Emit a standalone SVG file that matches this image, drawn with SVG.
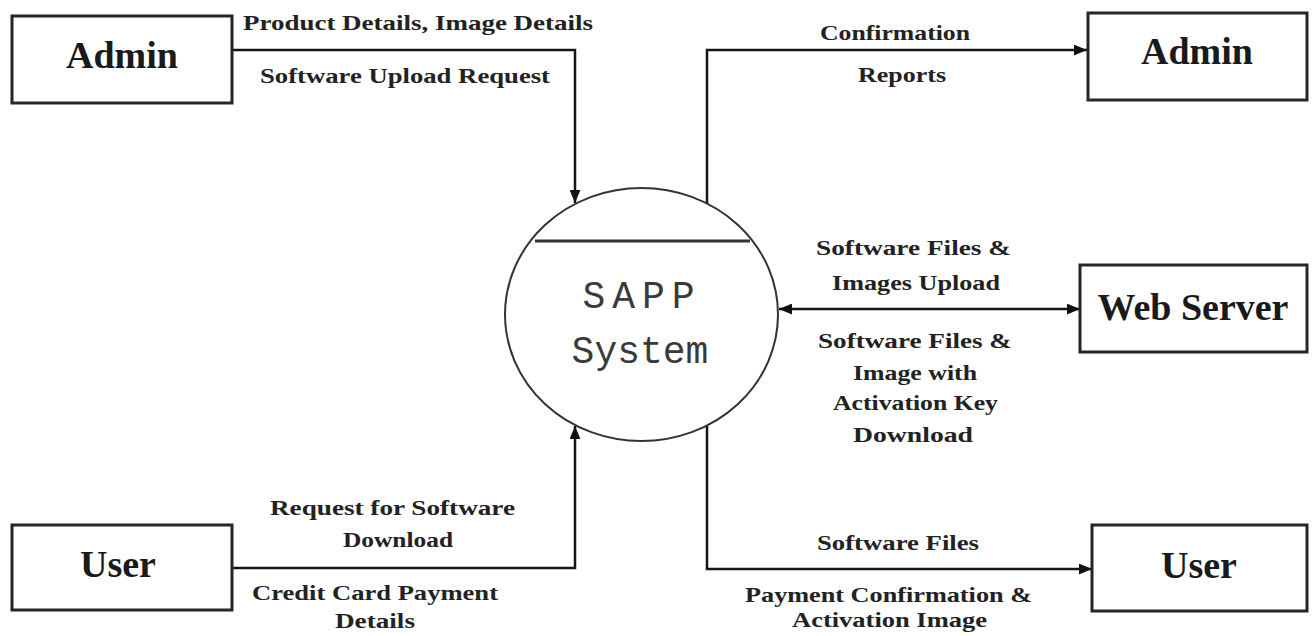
<svg xmlns="http://www.w3.org/2000/svg" width="1315" height="636" viewBox="0 0 1315 636">
  <style>
    .box { fill: #fff; stroke: #262626; stroke-width: 3; }
    .ent { font-family: "Liberation Serif", serif; font-weight: bold; font-size: 38px; fill: #1a1a1a; text-anchor: middle; }
    .lbl { font-family: "Liberation Serif", serif; font-weight: bold; font-size: 22px; fill: #222; }
    .flow { fill: none; stroke: #151515; stroke-width: 2.5; }
    .proc { font-family: "Liberation Mono", monospace; font-size: 38px; fill: #3a3a3a; text-anchor: middle; }
  </style>
  <defs>
    <marker id="arrow" viewBox="0 0 12 10" refX="12" refY="5" markerWidth="13" markerHeight="11" markerUnits="userSpaceOnUse" orient="auto-start-reverse">
      <path d="M0,0 L12,5 L0,10 Z" fill="#111"/>
    </marker>
  </defs>
  <rect width="1315" height="636" fill="#fff"/>

  <!-- data flows -->
  <g id="connectors">
    <path class="flow" d="M232,50 H575 V203" marker-end="url(#arrow)"/>
    <path class="flow" d="M707,204 V50 H1087" marker-end="url(#arrow)"/>
    <path class="flow" d="M779,309 H1080" marker-start="url(#arrow)" marker-end="url(#arrow)"/>
    <path class="flow" d="M232,568 H575 V426" marker-end="url(#arrow)"/>
    <path class="flow" d="M707,426 V569 H1092" marker-end="url(#arrow)"/>
  </g>

  <!-- flow labels -->
  <g id="labels" lengthAdjust="spacingAndGlyphs">
    <text class="lbl" x="243" y="30" textLength="350" lengthAdjust="spacingAndGlyphs">Product Details, Image Details</text>
    <text class="lbl" x="260" y="83" textLength="290" lengthAdjust="spacingAndGlyphs">Software Upload Request</text>
    <text class="lbl" x="820" y="40" textLength="150" lengthAdjust="spacingAndGlyphs">Confirmation</text>
    <text class="lbl" x="858" y="82" textLength="88" lengthAdjust="spacingAndGlyphs">Reports</text>
    <text class="lbl" x="816" y="255" textLength="195" lengthAdjust="spacingAndGlyphs">Software Files &amp;</text>
    <text class="lbl" x="832" y="290" textLength="168" lengthAdjust="spacingAndGlyphs">Images Upload</text>
    <text class="lbl" x="818" y="348" textLength="194" lengthAdjust="spacingAndGlyphs">Software Files &amp;</text>
    <text class="lbl" x="853" y="380" textLength="124" lengthAdjust="spacingAndGlyphs">Image with</text>
    <text class="lbl" x="833" y="410" textLength="165" lengthAdjust="spacingAndGlyphs">Activation Key</text>
    <text class="lbl" x="853" y="442" textLength="120" lengthAdjust="spacingAndGlyphs">Download</text>
    <text class="lbl" x="270" y="515" textLength="245" lengthAdjust="spacingAndGlyphs">Request for Software</text>
    <text class="lbl" x="343" y="547" textLength="110" lengthAdjust="spacingAndGlyphs">Download</text>
    <text class="lbl" x="252" y="600" textLength="246" lengthAdjust="spacingAndGlyphs">Credit Card Payment</text>
    <text class="lbl" x="335" y="628" textLength="80" lengthAdjust="spacingAndGlyphs">Details</text>
    <text class="lbl" x="817" y="550" textLength="162" lengthAdjust="spacingAndGlyphs">Software Files</text>
    <text class="lbl" x="745" y="602" textLength="287" lengthAdjust="spacingAndGlyphs">Payment Confirmation &amp;</text>
    <text class="lbl" x="792" y="627" textLength="195" lengthAdjust="spacingAndGlyphs">Activation Image</text>
  </g>

  <!-- external entities -->
  <g id="admin-source">
    <rect class="box" x="12" y="16" width="220" height="87"/>
    <text class="ent" x="122" y="68">Admin</text>
  </g>
  <g id="admin-sink">
    <rect class="box" x="1088" y="13" width="219" height="87"/>
    <text class="ent" x="1197" y="64">Admin</text>
  </g>
  <g id="web-server">
    <rect class="box" x="1080" y="265" width="227" height="87"/>
    <text class="ent" x="1193" y="320">Web Server</text>
  </g>
  <g id="user-source">
    <rect class="box" x="12" y="525" width="220" height="85"/>
    <text class="ent" x="118" y="577">User</text>
  </g>
  <g id="user-sink">
    <rect class="box" x="1092" y="525" width="215" height="86"/>
    <text class="ent" x="1199" y="578">User</text>
  </g>

  <!-- central process -->
  <g id="sapp-system">
    <ellipse cx="641.5" cy="314.5" rx="136.5" ry="126.5" fill="none" stroke="#333" stroke-width="2"/>
    <line x1="535" y1="241" x2="750" y2="241" stroke="#333" stroke-width="3"/>
    <text class="proc" x="642" y="308" letter-spacing="7">SAPP</text>
    <text class="proc" x="640" y="363">System</text>
  </g>
</svg>
